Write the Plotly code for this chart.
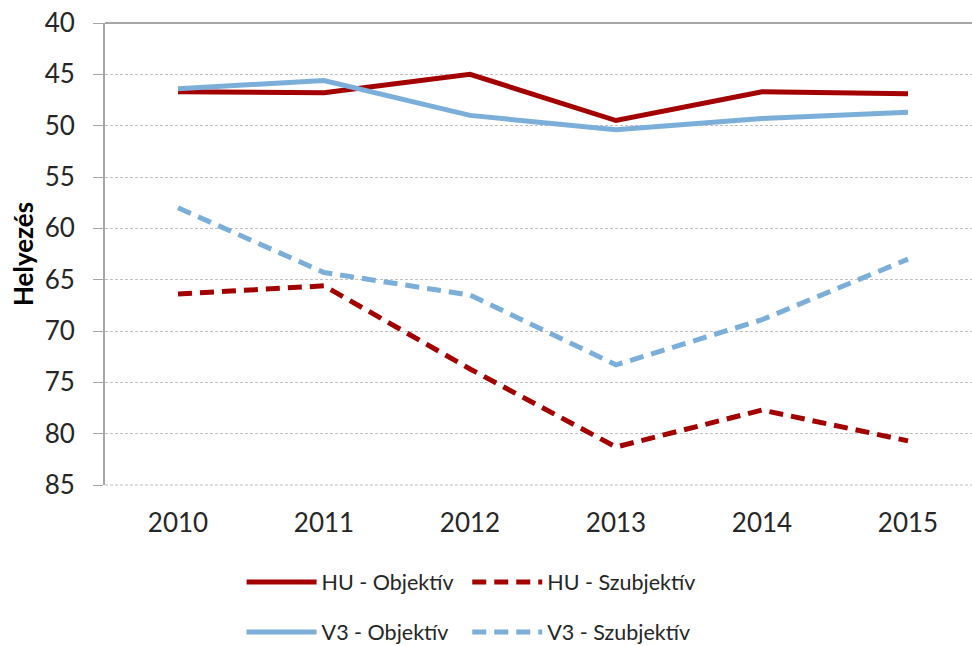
import plotly.graph_objects as go

years = ["2010", "2011", "2012", "2013", "2014", "2015"]
hu_obj = [46.7, 46.8, 45.0, 49.5, 46.7, 46.9]
v3_obj = [46.4, 45.6, 49.0, 50.4, 49.3, 48.7]
hu_subj = [66.4, 65.6, 73.7, 81.3, 77.7, 80.7]
v3_subj = [58.0, 64.3, 66.5, 73.3, 68.9, 63.0]
y_ticks = [40, 45, 50, 55, 60, 65, 70, 75, 80, 85]

RED = "#A30000"
BLUE = "#7BAFD9"
FONT = "Lato"
TXT = "#262626"

fig = go.Figure()
fig.add_trace(go.Scatter(x=years, y=hu_obj, name="HU - Objektív", mode="lines",
                         line=dict(color=RED, width=5), legend="legend", showlegend=True))
fig.add_trace(go.Scatter(x=years, y=hu_subj, name="HU - Szubjektív", mode="lines",
                         line=dict(color=RED, width=5, dash="14px,8px"), legend="legend2", showlegend=True))
fig.add_trace(go.Scatter(x=years, y=v3_obj, name="V3 - Objektív", mode="lines",
                         line=dict(color=BLUE, width=5), legend="legend3", showlegend=True))
fig.add_trace(go.Scatter(x=years, y=v3_subj, name="V3 - Szubjektív", mode="lines",
                         line=dict(color=BLUE, width=5, dash="14px,8px"), legend="legend4", showlegend=True))

# horizontal axis line at the top (reversed scale) and bottom gridline
fig.add_shape(type="line", xref="paper", yref="paper", x0=0, x1=1, y0=1, y1=1,
              line=dict(color="#A6A6A6", width=2), layer="above")
fig.add_shape(type="line", xref="paper", yref="paper", x0=0, x1=1, y0=0, y1=0,
              line=dict(color="#BFBFBF", width=1, dash="3px,2px"), layer="below")

lc = dict(orientation="h", xanchor="left", yanchor="middle", visible=True,
          font=dict(family=FONT, size=21.5, color=TXT),
          bgcolor="rgba(0,0,0,0)", itemwidth=70)

# plot area: x 105..981 (876 px), y 23..485 (462 px)
col1, col2 = (243 - 105) / 876, (471 - 105) / 876
row1, row2 = (485 - 582) / 462, (485 - 632) / 462

fig.update_layout(
    width=972, height=646, showlegend=True,
    margin=dict(l=105, r=0, t=23, b=161, autoexpand=False),
    paper_bgcolor="white", plot_bgcolor="white",
    font=dict(family=FONT, color=TXT),
    xaxis=dict(type="category", range=[-0.5, 5.5 - 9 / 146], showgrid=False, showline=False,
               zeroline=False, ticks="", automargin=False,
               tickfont=dict(family=FONT, size=26, color=TXT),
               ticklabelstandoff=20),
    yaxis=dict(range=[85, 40], tickvals=y_ticks, showgrid=True, gridcolor="#BFBFBF",
               griddash="3px,2px", gridwidth=1, zeroline=False, automargin=False,
               showline=True, linecolor="#A6A6A6", linewidth=2,
               ticks="outside", ticklen=10, tickcolor="#A6A6A6", tickwidth=1,
               tickfont=dict(family=FONT, size=26, color=TXT),
               ticklabelstandoff=13, ticklabeloverflow="allow",
               title=dict(text="<b>Helyezés</b>", font=dict(family=FONT, size=26, color="#000000"),
                          standoff=4)),
    legend=dict(x=col1, y=row1, **lc),
    legend2=dict(x=col2, y=row1, **lc),
    legend3=dict(x=col1, y=row2, **lc),
    legend4=dict(x=col2, y=row2, **lc),
)

fig.write_html("out.html", config={"displayModeBar": False},
               post_script="document.body.style.margin='0';document.body.style.overflow='hidden';")
